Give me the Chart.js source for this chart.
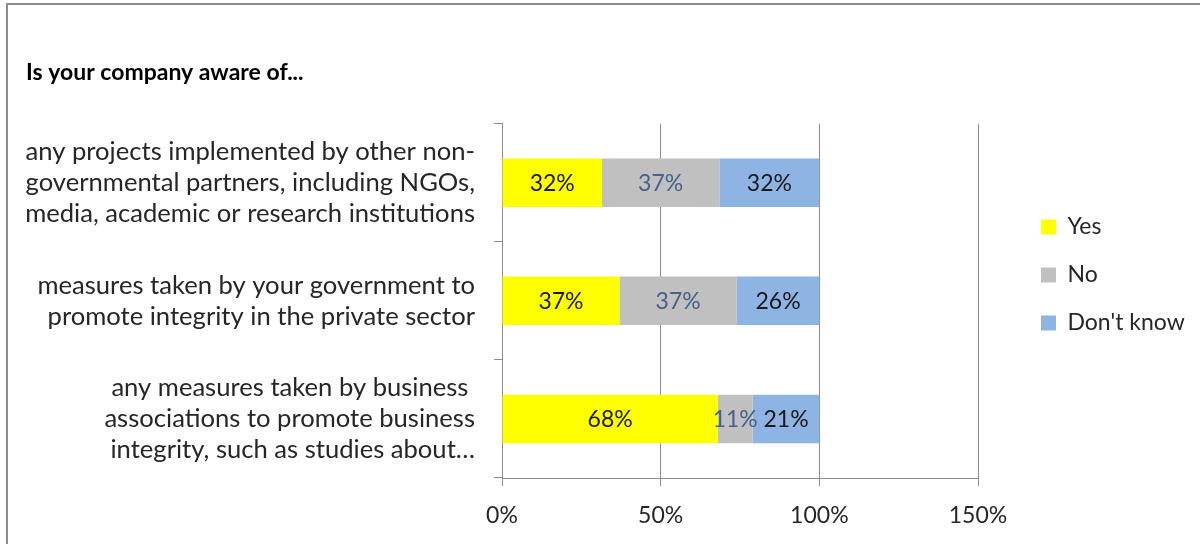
<!DOCTYPE html>
<html lang="en">
<head>
    <meta charset="UTF-8">
    <title>Is your company aware of...</title>
    <script src="https://cdn.jsdelivr.net/npm/chart.js@4.4.1/dist/chart.umd.min.js"></script>
    <style>
        html, body {
            margin: 0;
            padding: 0;
            background: #fff;
            overflow: hidden;
        }
        .frame {
            position: absolute;
            left: 6px;
            top: 3px;
            width: 1300px;
            height: 700px;
            border-left: 2px solid #8c8c8c;
            border-top: 2px solid #8c8c8c;
        }
        .chart-container {
            position: absolute;
            left: 0;
            top: 0;
            width: 1200px;
            height: 544px;
        }
    </style>
</head>
<body>
    <div class="frame"></div>
    <div class="chart-container">
        <canvas id="awarenessChart"></canvas>
    </div>

    <script>
        const categories = [
            ['any projects implemented by other non-', 'governmental partners, including NGOs,', 'media, academic or research institutions'],
            ['measures taken by your government to', 'promote integrity in the private sector'],
            ['any measures taken by business ', 'associations to promote business', 'integrity, such as studies about…']
        ];
        const yesValues = [31.5, 37, 68];
        const noValues = [37, 37, 11];
        const dontKnowValues = [31.5, 26, 21];
        const xTicks = [0, 50, 100, 150];

        const FONT = 'Lato, "Open Sans", sans-serif';
        const TEXT = '#262626';
        const GRID = '#8c8c8c';

        // legend sits in a fixed-width column, items pushed right of the plot
        const legendColumn = {
            id: 'legendColumn',
            beforeInit(chart) {
                const fit = chart.legend.fit;
                chart.legend.fit = function () {
                    fit.call(this);
                    this.width = 222;
                };
            },
            afterLayout(chart) {
                chart.legend.left += 38;
                chart.legend.right += 38;
                chart.legend.top += 3;
                chart.legend.bottom += 3;
            }
        };

        // percentage labels in the middle of each segment
        const segmentLabels = {
            id: 'segmentLabels',
            afterDatasetsDraw(chart) {
                const ctx = chart.ctx;
                ctx.save();
                ctx.font = '23px ' + FONT;
                ctx.textAlign = 'center';
                ctx.textBaseline = 'middle';
                chart.data.datasets.forEach((ds, i) => {
                    const meta = chart.getDatasetMeta(i);
                    ctx.fillStyle = ds.labelColor;
                    meta.data.forEach((bar, j) => {
                        const cx = (bar.x + bar.base) / 2;
                        ctx.fillText(Math.round(ds.data[j]) + '%', cx, bar.y + 1);
                    });
                });
                ctx.restore();
            }
        };

        const ctx = document.getElementById('awarenessChart').getContext('2d');
        new Chart(ctx, {
            type: 'bar',
            data: {
                labels: categories,
                datasets: [
                    { label: 'Yes', data: yesValues, backgroundColor: '#ffff00', labelColor: '#1a1a1a' },
                    { label: 'No', data: noValues, backgroundColor: '#c0c0c0', labelColor: '#46618c' },
                    { label: "Don't know", data: dontKnowValues, backgroundColor: '#8eb4e3', labelColor: '#1a1a1a' }
                ]
            },
            options: {
                indexAxis: 'y',
                responsive: true,
                maintainAspectRatio: false,
                animation: false,
                barPercentage: 0.41,
                categoryPercentage: 1,
                layout: { padding: { left: 26, right: 0, top: 0, bottom: 0 } },
                scales: {
                    x: {
                        stacked: true,
                        min: 0,
                        max: 150,
                        afterBuildTicks(scale) {
                            scale.ticks = xTicks.map(v => ({ value: v }));
                        },
                        afterFit(scale) {
                            scale.height = 66;
                        },
                        ticks: {
                            color: TEXT,
                            font: { family: FONT, size: 23 },
                            padding: 16,
                            callback: v => v + '%'
                        },
                        grid: { color: GRID, tickLength: 8 },
                        border: { color: GRID }
                    },
                    y: {
                        stacked: true,
                        afterFit(scale) {
                            scale.width = 476;
                        },
                        ticks: {
                            color: TEXT,
                            font: { family: FONT, size: 25.6, lineHeight: '31px' },
                            padding: 19
                        },
                        grid: { color: GRID, tickLength: 8, drawOnChartArea: false, offset: true },
                        border: { color: GRID }
                    }
                },
                plugins: {
                    title: {
                        display: true,
                        text: 'Is your company aware of...',
                        align: 'start',
                        color: '#000',
                        font: { family: FONT, size: 23, weight: 'bold', lineHeight: 1.2 },
                        padding: { top: 59, bottom: 37 }
                    },
                    legend: {
                        position: 'right',
                        labels: {
                            color: TEXT,
                            font: { family: FONT, size: 23 },
                            boxWidth: 15,
                            boxHeight: 15,
                            padding: 25
                        }
                    },
                    tooltip: { enabled: false }
                }
            },
            plugins: [legendColumn, segmentLabels]
        });
    </script>
</body>
</html>
